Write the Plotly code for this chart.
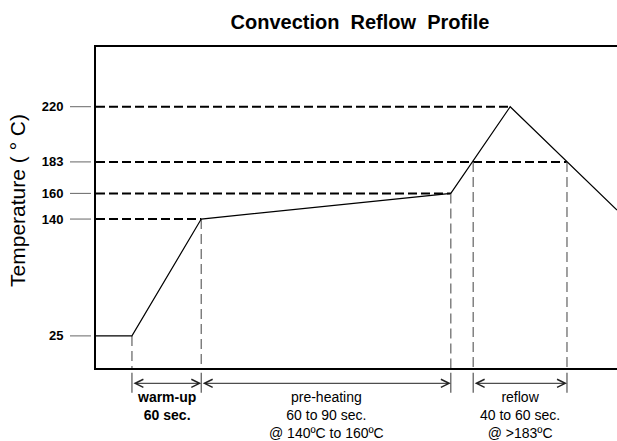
import numpy as np
import plotly.graph_objects as go

# ---------------- data ----------------
# schematic time axis (unlabelled, 0..100 across the plot)
profile_time = [0, 6.9, 20.2, 68.1, 79.5, 100]
profile_temp = [25, 25, 140, 160, 220, 147]

# labelled temperatures and the (schematic, non-linear) axis level of each
temp_ticks = [25, 140, 160, 183, 220]
tick_levels = [10.0, 46.4, 54.4, 64.2, 81.4]

# horizontal dashed guides: temperature and where each guide ends in time
hguide_temp = [140, 160, 183, 220]
hguide_end = [20.2, 68.1, 90.4, 79.5]

# vertical dashed guides: time and temperature at which they start
vguide_time = [6.9, 20.2, 68.1, 72.4, 90.4]
vguide_temp = [25, 140, 160, 183, 183]

# process phases shown under the axis
phase_start = [6.9, 20.2, 72.4]
phase_end = [20.2, 68.1, 90.4]
phase_text = [
    "<b>warm-up<br>60 sec.</b>",
    "pre-heating<br>60 to 90 sec.<br>@ 140ºC to 160ºC",
    "reflow<br>40 to 60 sec.<br>@ >183ºC",
]

title_text = "Convection  Reflow  Profile"
ytitle_text = "Temperature ( ° C)"


def level(t):
    return np.interp(t, temp_ticks, tick_levels)


FONT = "Liberation Sans, Arial, sans-serif"

fig = go.Figure()

# horizontal dashed guides
hx, hy = [], []
for t, e in zip(hguide_temp, hguide_end):
    hx += [0, e, None]
    hy += [level(t), level(t), None]
fig.add_trace(go.Scatter(x=hx, y=hy, mode="lines", hoverinfo="skip",
                         line=dict(color="black", width=2, dash="9px,4px")))

# vertical dashed guides
vx, vy = [], []
for x, t in zip(vguide_time, vguide_temp):
    vx += [x, x, None]
    vy += [level(t), 0, None]
fig.add_trace(go.Scatter(x=vx, y=vy, mode="lines", hoverinfo="skip",
                         line=dict(color="#6e6e6e", width=1.3, dash="10px,5px")))

# reflow profile
fig.add_trace(go.Scatter(x=profile_time, y=[level(t) for t in profile_temp],
                         mode="lines", line=dict(color="black", width=1.2)))

shapes = []
# small stubs below the axis at each vertical guide
for x in vguide_time:
    shapes.append(dict(type="line", xref="x", yref="paper", x0=x, x1=x,
                       y0=-0.0146, y1=-0.077, line=dict(color="#555", width=1.2)))
# tick stubs left of the y axis
for t in temp_ticks:
    shapes.append(dict(type="line", xref="paper", yref="y", x0=-0.0499, x1=-0.0096,
                       y0=level(t), y1=level(t), line=dict(color="#666", width=1)))

annotations = []
for s, e, txt in zip(phase_start, phase_end, phase_text):
    annotations.append(dict(x=e, y=-0.0477, xref="x", yref="paper",
                            ax=s, axref="x", ay=0, ayref="pixel", text="",
                            showarrow=True, arrowside="end+start",
                            arrowhead=5, startarrowhead=5,
                            arrowsize=1.6, startarrowsize=1.6,
                            arrowwidth=1, arrowcolor="#222", standoff=0, startstandoff=0))
    annotations.append(dict(x=(s + e) / 2, y=-0.06, xref="x", yref="paper",
                            text=txt, showarrow=False, xanchor="center", yanchor="top",
                            font=dict(family=FONT, size=14, color="black")))

annotations.append(dict(x=-0.152, y=0.523, xref="paper", yref="paper",
                        text=ytitle_text, textangle=-90, showarrow=False,
                        xanchor="center", yanchor="middle",
                        font=dict(family=FONT, size=21, color="black")))

fig.update_layout(
    width=617, height=441,
    margin=dict(l=96, r=0, t=47, b=73),
    paper_bgcolor="white", plot_bgcolor="white",
    showlegend=False,
    title=dict(text=title_text, x=0.5835, xref="container", xanchor="center",
               y=0.95, yref="container", yanchor="middle",
               font=dict(family=FONT, size=20, color="black", weight="bold")),
    xaxis=dict(range=[0, 100], showgrid=False, zeroline=False, showticklabels=False,
               ticks="", showline=True, linecolor="black", linewidth=2, mirror=True),
    yaxis=dict(range=[0, 100], showgrid=False, zeroline=False,
               tickvals=tick_levels, ticktext=[str(t) for t in temp_ticks],
               ticks="outside", ticklen=28, tickcolor="rgba(0,0,0,0)",
               tickfont=dict(family=FONT, size=13, color="black", weight="bold"),
               showline=True, linecolor="black", linewidth=2, mirror=False),
    shapes=shapes,
    annotations=annotations,
)

fig.write_html("out.html", config={"displayModeBar": False},
               post_script="document.body.style.margin='0px';document.body.style.overflow='hidden';")
